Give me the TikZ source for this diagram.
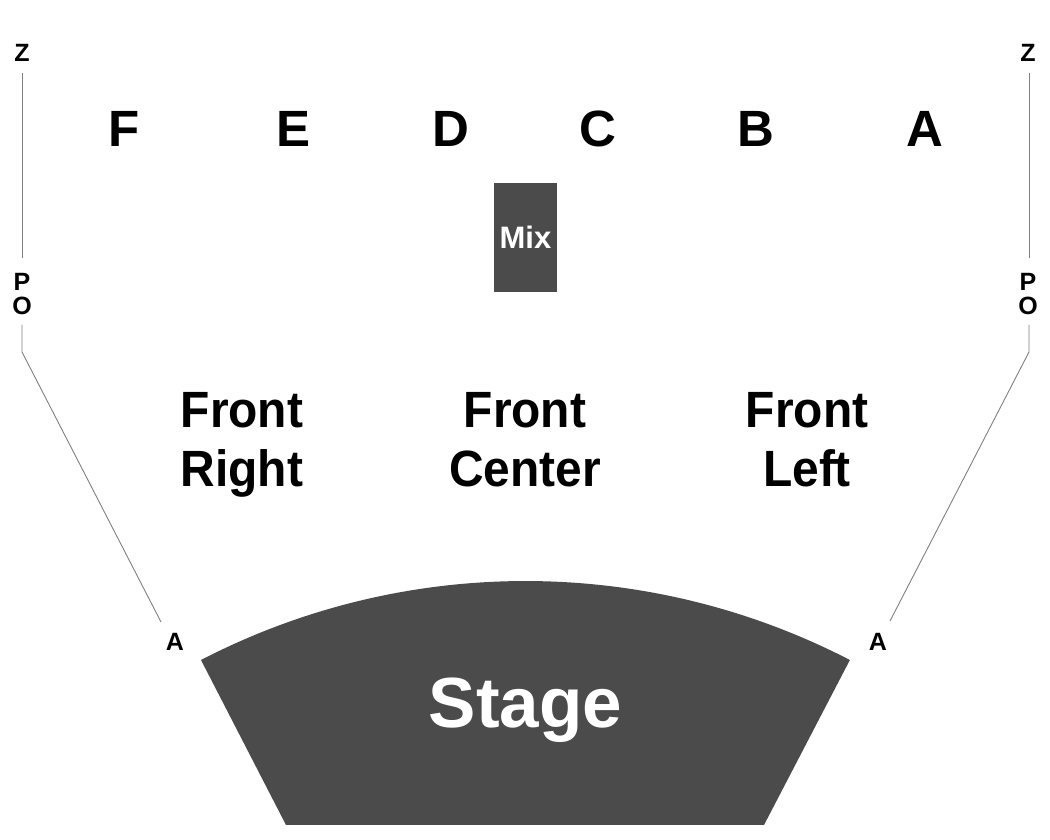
\documentclass[tikz,border=0pt]{standalone}
\usepackage{fontspec}
\usepackage{graphicx}
\setmainfont{Liberation Sans}
\definecolor{stagegray}{HTML}{4B4B4B}
\definecolor{linegray}{HTML}{808080}
\newcommand{\narrowtxt}[1]{\scalebox{0.94}[1]{#1}}
\tikzset{
  x=1pt,y=1pt,
  small/.style={font=\fontsize{25}{25}\selectfont\bfseries, inner sep=0pt, anchor=center},
  zone/.style={font=\fontsize{51}{51}\selectfont\bfseries, inner sep=0pt, anchor=base},
  area/.style={font=\fontsize{51}{59}\selectfont\bfseries, inner sep=0pt, align=center, anchor=north},
  wall/.style={draw=linegray, line width=0.9pt},
  darkfill/.style={fill=stagegray, draw=none},
}
\begin{document}
\begin{tikzpicture}
\useasboundingbox (0,0) rectangle (1050,840);
\fill[white] (0,0) rectangle (1050,840);

% stage
\path[darkfill] (201,180) arc[start angle=117.36, end angle=62.64, radius=706] -- (764,15) -- (286,15) -- cycle;
\node[font=\fontsize{71}{71}\selectfont\bfseries, text=white, inner sep=0pt, anchor=base] (stage) at (525.5,112) {Stage};

% mix
\node[darkfill, minimum width=63, minimum height=109, inner sep=0pt, text=white, font=\fontsize{31}{31}\selectfont\bfseries] (mix) at (525.5,602.5) {Mix};

% zone letters
\node[zone] (F) at (124,693) {F};
\node[zone] (E) at (294,693) {E};
\node[zone] (D) at (451,693) {D};
\node[zone] (C) at (598,693) {C};
\node[zone] (B) at (756,693) {B};
\node[zone] (A) at (925,693) {A};

% front areas
\node[area] (fr) at (242,447.5) {\narrowtxt{Front}\\\narrowtxt{Right}};
\node[area] (fc) at (525,447.5) {\narrowtxt{Front}\\\narrowtxt{Center}};
\node[area] (fl) at (807,447.5) {\narrowtxt{Front}\\\narrowtxt{Left}};

% left side markers
\node[small] (Zl) at (22,787) {Z};
\node[small] (Pl) at (22,558) {P};
\node[small] (Ol) at (22,534) {O};
\node[small] (Al) at (175,198) {A};
\coordinate (l1) at (22,767);
\coordinate (l2) at (22,582);
\coordinate (l3) at (22,515);
\coordinate (l4) at (22,488);
\coordinate (l5) at (161,218);
\draw[wall] (l1) -- (l2);
\draw[wall] (l3) -- (l4) -- (l5);

% right side markers
\node[small] (Zr) at (1028,787) {Z};
\node[small] (Pr) at (1028,558) {P};
\node[small] (Or) at (1028,534) {O};
\node[small] (Ar) at (878,198) {A};
\coordinate (r1) at (1029,767);
\coordinate (r2) at (1029,582);
\coordinate (r3) at (1029,515);
\coordinate (r4) at (1029,488);
\coordinate (r5) at (890,219);
\draw[wall] (r1) -- (r2);
\draw[wall] (r3) -- (r4) -- (r5);
\end{tikzpicture}
\end{document}
